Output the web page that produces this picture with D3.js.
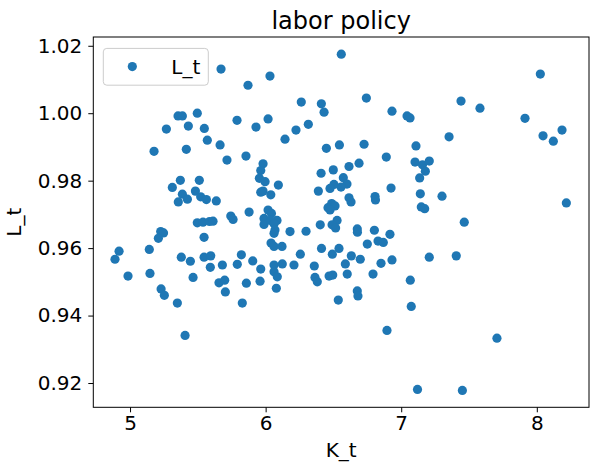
<!DOCTYPE html>
<html>
<head>
<meta charset="utf-8">
<script src="https://cdn.jsdelivr.net/npm/d3@7"></script>
<style>
  html, body { margin: 0; padding: 0; background: #fff; }
  svg { display: block; font-family: "DejaVu Sans", sans-serif; }
</style>
</head>
<body>
<div id="wrapper"></div>
<script>
/* global d3 */

// capital (x) and labor (y) values
const kValues = [
  5.671, 5.870, 5.354, 5.386, 5.496, 5.789, 5.268, 5.430, 5.548, 5.929,
  5.570, 5.664, 5.177, 5.415, 5.855, 6.558, 6.032, 6.743, 6.263, 6.411,
  6.431, 6.932, 7.043, 7.065, 6.018, 6.224, 6.315, 6.143, 6.448, 6.544,
  6.726, 7.109, 6.890, 8.026, 7.441, 7.581, 7.913, 7.353, 8.046, 8.122,
  8.186, 5.715, 5.981, 5.964, 5.954, 5.996, 6.094, 5.964, 5.981, 6.038,
  5.371, 5.511, 5.312, 5.386, 5.423, 5.356, 5.482, 5.521, 5.563, 5.636,
  7.102, 7.157, 7.207, 7.178, 7.136, 6.409, 6.499, 6.615, 6.689, 6.573,
  6.600, 6.556, 6.504, 6.475, 6.389, 6.615, 6.630, 6.807, 6.810, 6.925,
  7.141, 7.301, 8.218, 6.487, 6.460, 6.512, 6.475, 7.148, 7.173, 5.743,
  5.760, 5.878, 5.496, 5.538, 5.586, 5.612, 5.988, 5.988, 6.018, 6.043,
  6.084, 6.036, 6.062, 6.069, 6.062, 6.180, 6.298, 6.403, 6.527, 6.490,
  6.516, 6.676, 6.677, 6.802, 6.917, 7.465, 6.040, 6.062, 6.121, 6.750,
  6.829, 6.868, 5.226, 5.247, 5.209, 5.546, 4.919, 4.889, 5.142, 5.378,
  5.445, 5.546, 5.595, 5.592, 5.681, 5.821, 5.791, 5.905, 5.964, 4.985,
  5.147, 5.465, 5.656, 5.698, 5.858, 5.959, 5.229, 5.253, 5.703, 5.349,
  5.828, 5.406, 6.412, 6.256, 6.492, 6.541, 6.632, 6.698, 6.062, 6.123,
  6.062, 6.086, 6.209, 6.359, 6.588, 6.851, 6.932, 6.079, 6.364, 6.381,
  6.468, 6.495, 6.602, 6.792, 7.067, 6.676, 6.681, 6.536, 7.074, 6.895,
  7.120, 7.207, 7.406, 7.706, 7.451
]

const lValues = [
  1.0131, 1.0083, 0.9992, 0.9992, 1.0000, 0.9979, 0.9953, 0.9962, 0.9955, 0.9959,
  0.9920, 0.9906, 0.9887, 0.9893, 0.9873, 1.0175, 1.0110, 1.0045, 1.0033, 1.0028,
  1.0003, 1.0006, 0.9992, 0.9986, 0.9983, 0.9950, 0.9967, 0.9923, 0.9896, 0.9906,
  0.9908, 0.9903, 0.9870, 1.0116, 1.0036, 1.0015, 0.9985, 0.9930, 0.9933, 0.9917,
  0.9950, 0.9861, 0.9850, 0.9830, 0.9807, 0.9797, 0.9787, 0.9766, 0.9769, 0.9758,
  0.9801, 0.9801, 0.9780, 0.9760, 0.9745, 0.9737, 0.9769, 0.9752, 0.9744, 0.9740,
  0.9855, 0.9847, 0.9858, 0.9828, 0.9808, 0.9822, 0.9832, 0.9842, 0.9852, 0.9809,
  0.9790, 0.9781, 0.9789, 0.9777, 0.9769, 0.9749, 0.9737, 0.9753, 0.9743, 0.9778,
  0.9761, 0.9754, 0.9734, 0.9732, 0.9720, 0.9725, 0.9713, 0.9722, 0.9717, 0.9695,
  0.9685, 0.9707, 0.9675, 0.9677, 0.9679, 0.9680, 0.9688, 0.9670, 0.9713, 0.9703,
  0.9682, 0.9682, 0.9672, 0.9654, 0.9644, 0.9649, 0.9650, 0.9669, 0.9682, 0.9669,
  0.9660, 0.9657, 0.9647, 0.9653, 0.9641, 0.9677, 0.9615, 0.9605, 0.9605, 0.9612,
  0.9621, 0.9617, 0.9649, 0.9645, 0.9629, 0.9632, 0.9591, 0.9567, 0.9596, 0.9573,
  0.9561, 0.9573, 0.9577, 0.9543, 0.9550, 0.9580, 0.9552, 0.9562, 0.9538, 0.9517,
  0.9525, 0.9513, 0.9497, 0.9505, 0.9496, 0.9502, 0.9479, 0.9460, 0.9470, 0.9437,
  0.9437, 0.9341, 0.9599, 0.9582, 0.9582, 0.9599, 0.9577, 0.9567, 0.9550, 0.9553,
  0.9530, 0.9515, 0.9550, 0.9547, 0.9553, 0.9555, 0.9565, 0.9481, 0.9513, 0.9500,
  0.9517, 0.9520, 0.9523, 0.9523, 0.9505, 0.9473, 0.9458, 0.9446, 0.9427, 0.9356,
  0.9181, 0.9573, 0.9577, 0.9333, 0.9178
]

const xTicks = [5, 6, 7, 8]
const yTicks = [0.92, 0.94, 0.96, 0.98, 1.00, 1.02]
const titleText = "labor policy"
const xLabel = "K_t"
const yLabel = "L_t"
const seriesName = "L_t"

const data = kValues.map((k, i) => ({ k: k, l: lValues[i] }))
const xAccessor = d => d.k
const yAccessor = d => d.l

// chart dimensions
let dimensions = {
  width: 598,
  height: 473,
  margin: {
    top: 37,
    right: 9,
    bottom: 65.7,
    left: 93.3,
  },
}
dimensions.boundedWidth = dimensions.width
  - dimensions.margin.left
  - dimensions.margin.right
dimensions.boundedHeight = dimensions.height
  - dimensions.margin.top
  - dimensions.margin.bottom

const color = "#1f77b4"
const fontSize = 20

const wrapper = d3.select("#wrapper")
  .append("svg")
    .attr("width", dimensions.width)
    .attr("height", dimensions.height)

const bounds = wrapper.append("g")
    .attr("transform", `translate(${dimensions.margin.left},${dimensions.margin.top})`)

// scales (matplotlib-style 5% padding around the data)
const xScale = d3.scaleLinear()
  .domain([4.729, 8.385])
  .range([0, dimensions.boundedWidth])

const yScale = d3.scaleLinear()
  .domain([0.9128, 1.0226])
  .range([dimensions.boundedHeight, 0])

// points
bounds.append("g")
  .selectAll("circle")
  .data(data)
  .join("circle")
    .attr("cx", d => xScale(xAccessor(d)))
    .attr("cy", d => yScale(yAccessor(d)))
    .attr("r", 4.6)
    .attr("fill", color)

// axes
const xAxis = d3.axisBottom(xScale)
  .tickValues(xTicks)
  .tickFormat(d3.format("d"))
  .tickSize(5)
  .tickPadding(4)

const yAxis = d3.axisLeft(yScale)
  .tickValues(yTicks)
  .tickFormat(d3.format(".2f"))
  .tickSize(5)
  .tickPadding(6)

const xAxisGroup = bounds.append("g")
    .attr("transform", `translate(0,${dimensions.boundedHeight})`)
    .call(xAxis)

const yAxisGroup = bounds.append("g")
    .call(yAxis)

;[xAxisGroup, yAxisGroup].forEach(g => {
  g.select(".domain").remove()
  g.selectAll(".tick line").attr("stroke", "#000").attr("stroke-width", 1)
  g.selectAll(".tick text")
    .attr("fill", "#000")
    .style("font-size", fontSize + "px")
    .style("font-family", "DejaVu Sans, sans-serif")
})

// frame (all four spines)
bounds.append("rect")
    .attr("x", 0)
    .attr("y", 0)
    .attr("width", dimensions.boundedWidth)
    .attr("height", dimensions.boundedHeight)
    .attr("fill", "none")
    .attr("stroke", "#000")
    .attr("stroke-width", 1)

// labels
wrapper.append("text")
    .attr("x", dimensions.margin.left + dimensions.boundedWidth / 2)
    .attr("y", 29.3)
    .attr("text-anchor", "middle")
    .style("font-size", "24px")
    .text(titleText)

wrapper.append("text")
    .attr("x", dimensions.margin.left + dimensions.boundedWidth / 2)
    .attr("y", 456.5)
    .attr("text-anchor", "middle")
    .style("font-size", fontSize + "px")
    .text(xLabel)

wrapper.append("text")
    .attr("transform", `translate(21,${dimensions.margin.top + dimensions.boundedHeight / 2}) rotate(-90)`)
    .attr("text-anchor", "middle")
    .style("font-size", fontSize + "px")
    .text(yLabel)

// legend
const legend = bounds.append("g")
    .attr("transform", "translate(10,11.4)")

legend.append("rect")
    .attr("width", 105)
    .attr("height", 36.8)
    .attr("rx", 3.5)
    .attr("fill", "#fff")
    .attr("fill-opacity", 0.8)
    .attr("stroke", "#cccccc")
    .attr("stroke-width", 1)

legend.append("circle")
    .attr("cx", 29)
    .attr("cy", 18.2)
    .attr("r", 4.6)
    .attr("fill", color)

legend.append("text")
    .attr("x", 68)
    .attr("y", 25.2)
    .style("font-size", fontSize + "px")
    .text(seriesName)
</script>
</body>
</html>
